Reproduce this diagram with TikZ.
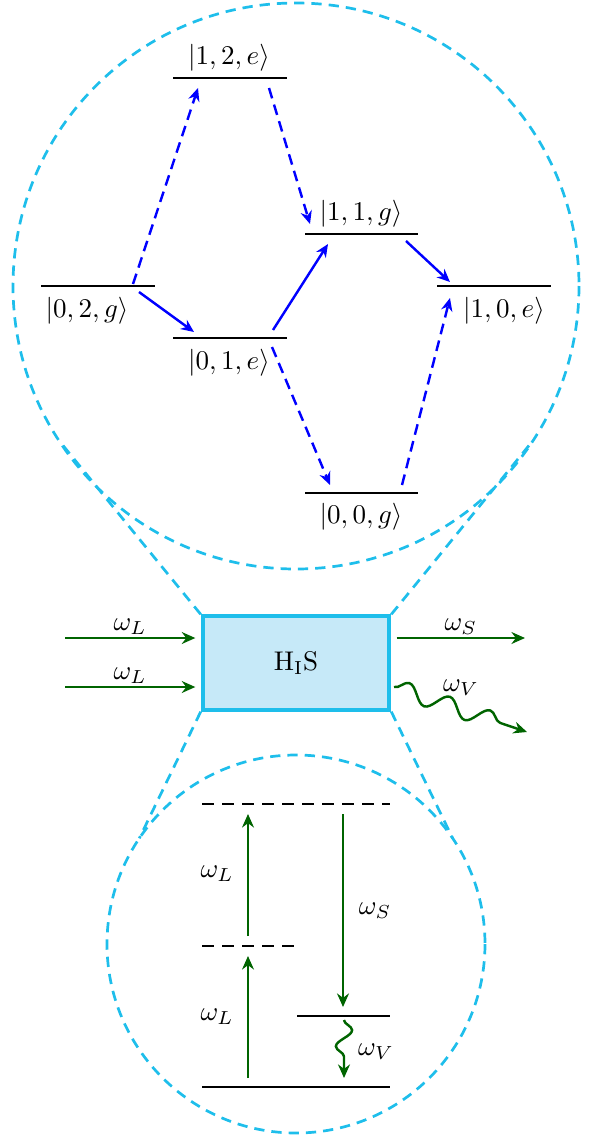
\documentclass[tikz,border=0pt]{standalone}
\usetikzlibrary{arrows.meta,decorations.pathmorphing,calc}
\definecolor{myblue}{RGB}{0,0,255}
\definecolor{mygreen}{RGB}{0,100,0}
\definecolor{mycyan}{RGB}{30,190,235}
\definecolor{myfill}{RGB}{198,233,248}
\begin{document}
\begin{tikzpicture}[x=0.37pt,y=-0.37pt,
  level/.style={line width=1.05pt},
  lbl/.style={anchor=base, inner sep=0pt},
  barrow/.style={myblue, line width=0.9pt, -{Stealth[length=4.8pt,width=4.2pt]}},
  bdash/.style={barrow, dash pattern=on 4pt off 2.4pt},
  garrow/.style={mygreen, line width=0.9pt, -{Stealth[length=5pt,width=4.4pt]}},
  gwave/.style={garrow, decorate, decoration={snake, amplitude=3.2pt, segment length=15.8pt, post length=4.5pt}},
  zoomc/.style={mycyan, line width=1pt, dash pattern=on 3.8pt off 2.6pt},
  virt/.style={line width=1.05pt, dash pattern=on 4.4pt off 3pt},
  wlbl/.style={inner sep=1pt, text=black}
]
\useasboundingbox (0,0) rectangle (596,1138);

% ---------- top zoom circle ----------
\coordinate (tc) at (296,286);
\draw[zoomc] (tc) circle [radius=283];

% levels
\draw[level] (173,78) -- (287,78);
\draw[level] (305,234) -- (418,234);
\draw[level] (41,286) -- (155,286);
\draw[level] (173,338) -- (287,338);
\draw[level] (437,286) -- (551,286);
\draw[level] (305,493) -- (418,493);

\node[lbl] (s12e) at (229,65) {$|1,2,e\rangle$};
\node[lbl] (s11g) at (361,221) {$|1,1,g\rangle$};
\node[lbl] (s02g) at (87,317) {$|0,2,g\rangle$};
\node[lbl] (s01e) at (229,369) {$|0,1,e\rangle$};
\node[lbl] (s10e) at (504,317) {$|1,0,e\rangle$};
\node[lbl] (s00g) at (361,523) {$|0,0,g\rangle$};

% arrow end points
\coordinate (a1s) at (133,284); \coordinate (a1e) at (198,88);
\coordinate (a2s) at (269,88);  \coordinate (a2e) at (310,224);
\coordinate (a3s) at (139,292); \coordinate (a3e) at (194,332);
\coordinate (a4s) at (273,330); \coordinate (a4e) at (328,244);
\coordinate (a5s) at (406,241); \coordinate (a5e) at (450,282);
\coordinate (a6s) at (272,347); \coordinate (a6e) at (330,485);
\coordinate (a7s) at (402,485); \coordinate (a7e) at (450,298);

\draw[bdash] (a1s) -- (a1e);
\draw[bdash] (a2s) -- (a2e);
\draw[barrow] (a3s) -- (a3e);
\draw[barrow] (a4s) -- (a4e);
\draw[barrow] (a5s) -- (a5e);
\draw[bdash] (a6s) -- (a6e);
\draw[bdash] (a7s) -- (a7e);

% ---------- box ----------
\node[draw=mycyan, fill=myfill, line width=1.5pt, minimum width=69pt, minimum height=34.5pt, inner sep=0pt]
  (box) at (296,663) {$\mathrm{H}_{\mathrm{I}}\mathrm{S}$};

% connectors to circles
\coordinate (bc) at (296,944);
\coordinate (tL) at ($(tc)+(147:283)$);
\coordinate (tR) at ($(tc)+(33:283)$);
\coordinate (bL) at ($(bc)+(214:189)$);
\coordinate (bR) at ($(bc)+(326:189)$);
\draw[zoomc] (box.north west) -- (tL);
\draw[zoomc] (box.north east) -- (tR);
\draw[zoomc] (box.south west) -- (bL);
\draw[zoomc] (box.south east) -- (bR);

% inputs / outputs
\coordinate (in1) at (65,638);
\coordinate (in2) at (65,687);
\coordinate (outS) at (525,638);
\coordinate (outV) at (527,732);
\coordinate (wV) at (394,687);
\draw[garrow] (in1) -- ([xshift=-2pt]box.west |- in1) node[midway, above, wlbl] {$\omega_L$};
\draw[garrow] (in2) -- ([xshift=-2pt]box.west |- in2) node[midway, above, wlbl] {$\omega_L$};
\draw[garrow] ([xshift=2pt]box.east |- outS) -- (outS) node[midway, above, wlbl] {$\omega_S$};
\draw[gwave] (wV) -- (outV);
\node (lV) at (461,688) {$\omega_V$};

% ---------- bottom zoom circle ----------
\draw[zoomc] (bc) circle [radius=189];

\draw[virt] (202,804) -- (390,804);
\draw[virt] (202,946) -- (294,946);
\draw[level] (297,1016) -- (390,1016);
\draw[level] (202,1087) -- (390,1087);

\coordinate (u1s) at (248,1078); \coordinate (u1e) at (248,956);
\coordinate (u2s) at (248,936);  \coordinate (u2e) at (248,814);
\coordinate (d1s) at (343,814);  \coordinate (d1e) at (343,1007);
\coordinate (v1s) at (344,1020); \coordinate (v1e) at (344,1078);

\draw[garrow] (u1s) -- (u1e);
\draw[garrow] (u2s) -- (u2e);
\draw[garrow] (d1s) -- (d1e);
\draw[garrow, decorate, decoration={snake, amplitude=3pt, segment length=12pt, post length=3.5pt}] (v1s) -- (v1e);

\node (lL1) at (217,1017) {$\omega_L$};
\node (lL2) at (217,874) {$\omega_L$};
\node (lS) at (375,911) {$\omega_S$};
\node (lV2) at (376,1052) {$\omega_V$};
\end{tikzpicture}
\end{document}
